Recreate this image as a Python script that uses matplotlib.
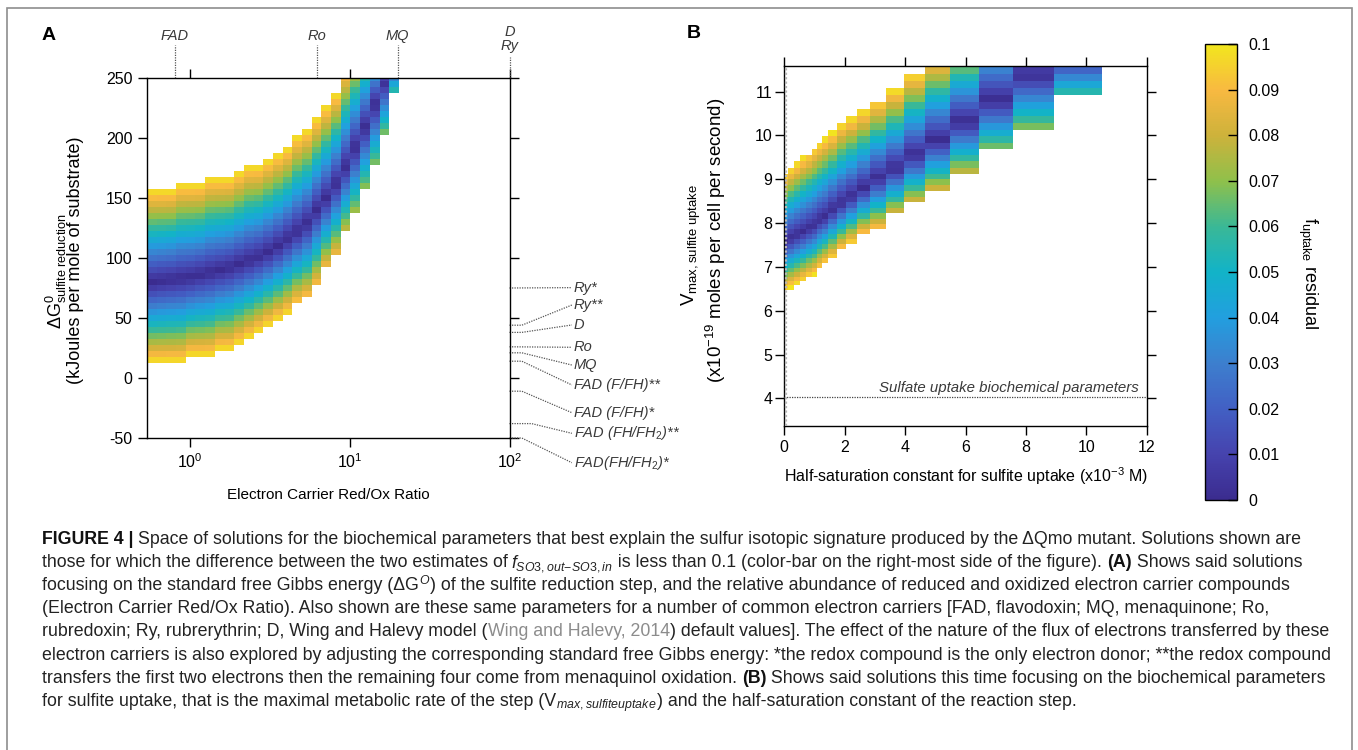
import numpy as np
import matplotlib
matplotlib.use("Agg")
import matplotlib.pyplot as plt
from matplotlib.colors import LinearSegmentedColormap
from matplotlib.transforms import blended_transform_factory
from matplotlib.ticker import NullLocator
from matplotlib.patches import Rectangle

plt.rcParams['font.family'] = ['Liberation Sans', 'DejaVu Sans']
plt.rcParams['mathtext.fontset'] = 'custom'
plt.rcParams['mathtext.rm'] = 'Liberation Sans'
plt.rcParams['mathtext.it'] = 'Liberation Sans:italic'
plt.rcParams['mathtext.bf'] = 'Liberation Sans:bold'
plt.rcParams['axes.unicode_minus'] = False

# ---- panel A: one entry per red/ox column (log grid), dG in kJ/mol
a_logx_range = (-0.268, 1.308)
a_bot = [12.5, 12.5, 12.5, 12.5, 17.5, 17.5, 17.5, 22.5, 22.5, 27.5, 32.5, 37.5, 42.5,
         47.5, 52.5, 62.5, 67.5, 77.5, 92.5, 102.5, 122.5, 137.5, 157.5, 177.5, 202.5, 237.5]
a_top = [157.5, 157.5, 157.5, 162.5, 162.5, 162.5, 167.5, 167.5, 167.5, 172.5, 177.5, 177.5,
         182.5, 187.5, 192.5, 202.5, 207.5, 217.5, 227.5, 237.5, 252.5, 252.5, 252.5, 252.5,
         252.5, 252.5]
a_mid = [80, 81, 82, 83, 84, 86, 88, 90, 92, 95, 98, 101, 105, 110, 116, 122, 129, 140, 150,
         162, 176, 192, 209, 228, 247, 265]
a_rbot = [0.1] * 15 + [0.095, 0.093, 0.092, 0.09, 0.09, 0.08, 0.075, 0.072, 0.07, 0.07, 0.06]
a_rtop = [0.1] * 20 + [0.092, 0.075, 0.058, 0.038, 0.018, 0.0]

# electron carriers (dG values marked on the right spine)
carrier_names = ['Ry*', 'Ry**', 'D', 'Ro', 'MQ', 'FAD (F/FH)**', 'FAD (F/FH)*',
                 'FAD (FH/FH$_{2}$)**', 'FAD(FH/FH$_{2}$)*']
carrier_dG = [75, 44, 38, 26, 21, 14, -11, -38, -50]
carrier_lbl_y = [75.3, 60.8, 44.2, 25.6, 10.8, -5.8, -28.9, -46.1, -70.6]
carrier_kink = [1.0, 1.034, 1.034, 1.0, 1.034, 1.034, 1.034, 1.061, 1.034]

top_names = ['FAD', 'Ro', 'MQ', 'D\nRy']
top_ratio = [0.805, 6.25, 20.0, 100.0]

# ---- panel B: one entry per half-saturation column
b_xedges = [0, 0.133, 0.332, 0.531, 0.719, 0.918, 1.073, 1.250, 1.460, 1.737, 2.046, 2.423,
            2.843, 3.352, 3.949, 4.668, 5.476, 6.460, 7.577, 8.927, 10.509]
b_bot = [6.47, 6.53, 6.60, 6.67, 6.75, 6.82, 6.94, 7.05, 7.17, 7.36, 7.51, 7.70, 7.89, 8.18,
         8.46, 8.76, 9.18, 9.73, 10.20, 10.92]
b_top = [9.155, 9.28, 9.39, 9.51, 9.61, 9.73, 9.84, 9.95, 10.07, 10.29, 10.42, 10.58, 10.80,
         11.05, 11.43, 11.585, 11.585, 11.585, 11.585, 11.585]
b_mid = [7.58, 7.66, 7.74, 7.81, 7.89, 7.96, 8.08, 8.15, 8.31, 8.46, 8.61, 8.80, 9.03, 9.25,
         9.56, 9.90, 10.32, 10.80, 11.40, 11.83]
b_rbot = [0.1] * 12 + [0.092, 0.088, 0.085, 0.082, 0.078, 0.068, 0.068, 0.06]
b_rtop = [0.1] * 15 + [0.088, 0.068, 0.035, 0.012, 0.0]
b_ymax = 11.585
sulfate_vmax = 4.02
sulfate_k = 0.07

cbar_ticks = [0, 0.01, 0.02, 0.03, 0.04, 0.05, 0.06, 0.07, 0.08, 0.09, 0.1]
cbar_labels = ['0', '0.01', '0.02', '0.03', '0.04', '0.05', '0.06', '0.07', '0.08', '0.09', '0.1']

parula = LinearSegmentedColormap.from_list('parula_like', [
    '#3b2c8f', '#4643ae', '#4260c4', '#3d7fce', '#229fdf', '#12b3c8',
    '#3ab896', '#8fc04b', '#cdb23b', '#f8b941', '#f2e61e'])


def residual_grid(ycent, bot, top, mid, rb, rt):
    z = np.full((len(ycent), len(bot)), np.nan)
    for j in range(len(bot)):
        for i, y in enumerate(ycent):
            if y < bot[j] or y > top[j]:
                continue
            m = mid[j]
            if y <= m:
                r = rb[j] * (m - y) / (m - bot[j])
            else:
                r = rt[j] * (y - m) / (top[j] - m)
            z[i, j] = min(r, 0.1)
    return np.ma.masked_invalid(z)


W, H = 1358, 750
fig = plt.figure(figsize=(W / 100, H / 100), dpi=100)


def fx(px):
    return px / W


def fy(py):
    return 1 - py / H


txt_dark = '#3a3a3a'
dot = (0, (1, 1))

# ================= panel A
axA = fig.add_axes([fx(147), fy(438), (509.5 - 147) / W, (438 - 78) / H])
a_xe = np.logspace(a_logx_range[0], a_logx_range[1], len(a_bot) + 1)
a_ye = np.arange(12.5, 253, 5.0)
a_yc = 0.5 * (a_ye[:-1] + a_ye[1:])
zA = residual_grid(a_yc, a_bot, a_top, a_mid, a_rbot, a_rtop)
axA.pcolormesh(a_xe, a_ye, zA, cmap=parula, vmin=0, vmax=0.1, shading='flat')
axA.set_xscale('log')
axA.set_xlim(10 ** a_logx_range[0], 100)
axA.set_ylim(-50, 250)
axA.set_xticks([1, 10, 100])
axA.xaxis.set_minor_locator(NullLocator())
axA.set_yticks(range(-50, 251, 50))
axA.tick_params(direction='out', length=6.5, width=1, top=True, right=True,
                labelsize=11.5, pad=4)
for s in axA.spines.values():
    s.set_linewidth(1)
axA.set_xlabel('Electron Carrier Red/Ox Ratio', fontsize=11, labelpad=12)

trA = blended_transform_factory(axA.transData, axA.transAxes)
for name, xv in zip(top_names, top_ratio):
    ytop = 1.058 if '\n' in name else 1.092
    axA.plot([xv, xv], [1.0, ytop], ls=dot, lw=0.9, color='#555555',
             transform=trA, clip_on=False)
    yl = 1.107 if '\n' in name else 1.117
    axA.text(xv, yl, name, transform=trA, ha='center', va='center', style='italic',
             fontsize=10.5, color=txt_dark, linespacing=1.0)

trR = blended_transform_factory(axA.transAxes, axA.transData)
for name, g, ly, kx in zip(carrier_names, carrier_dG, carrier_lbl_y, carrier_kink):
    axA.plot([1.0, kx, 1.172], [g, g, ly], ls=dot, lw=0.9, color='#555555',
             transform=trR, clip_on=False)
    axA.text(1.177, ly, name, transform=trR, ha='left', va='center', style='italic',
             fontsize=10.5, color=txt_dark)

fig.text(fx(56), fy(271), r'$\Delta\mathrm{G}^{0}_{\mathrm{sulfite\ reduction}}$',
         rotation=90, ha='center', va='center', fontsize=13)
fig.text(fx(76), fy(260), '(kJoules per mole of substrate)', rotation=90,
         ha='center', va='center', fontsize=13)

# ================= panel B
axB = fig.add_axes([fx(784.3), fy(425.7), (1146.7 - 784.3) / W, (425.7 - 66) / H])
b_ye = b_ymax / 1.015 ** np.arange(44, -1, -1)
b_yc = 0.5 * (b_ye[:-1] + b_ye[1:])
zB = residual_grid(b_yc, b_bot, b_top, b_mid, b_rbot, b_rtop)
meshB = axB.pcolormesh(b_xedges, b_ye, zB, cmap=parula, vmin=0, vmax=0.1, shading='flat')
axB.set_xlim(0, 12)
axB.set_ylim(3.375, b_ymax)
axB.set_xticks(range(0, 13, 2))
axB.set_yticks(range(4, 12))
axB.tick_params(direction='out', length=6.5, width=1, top=True, right=True,
                labelsize=11.5)
axB.tick_params(axis='y', pad=2)
for s in axB.spines.values():
    s.set_linewidth(1)
axB.axhline(sulfate_vmax, ls=dot, lw=0.9, color='#444444', zorder=3)
axB.axvline(sulfate_k, ls=dot, lw=1.6, color='#b5b5b5', zorder=3)
axB.text(11.75, sulfate_vmax + 0.06, 'Sulfate uptake biochemical parameters', ha='right',
         va='bottom', style='italic', fontsize=10.8, color=txt_dark)
axB.set_xlabel(r'Half-saturation constant for sulfite uptake (x10$^{-3}$ M)',
               fontsize=11.5, labelpad=8)

fig.text(fx(691), fy(245), r'$\mathrm{V}_{\mathrm{max,sulfite\ uptake}}$', rotation=90,
         ha='center', va='center', fontsize=13.5)
fig.text(fx(716), fy(240), r'(x10$^{-19}$ moles per cell per second)', rotation=90,
         ha='center', va='center', fontsize=13.5)

# ================= colour bar
cax = fig.add_axes([fx(1205), fy(500), (1237.3 - 1205) / W, (500 - 44) / H])
cb = fig.colorbar(meshB, cax=cax, ticks=cbar_ticks)
cb.ax.set_yticklabels(cbar_labels)
cb.outline.set_linewidth(1)
cax.tick_params(direction='in', length=6.5, width=1, labelsize=11.5, pad=8)
fig.text(fx(1308), fy(273), r'$\mathrm{f}_{\mathrm{uptake}}$ residual', rotation=270,
         ha='center', va='center', fontsize=13)

fig.text(fx(42), fy(35), 'A', fontsize=14, weight='bold', ha='left', va='center')
fig.text(fx(687), fy(34), 'B', fontsize=14, weight='bold', ha='left', va='center')

# ================= caption
caption = [
    [("FIGURE 4 | ", 'b'), ("Space of solutions for the biochemical parameters that best explain "
      "the sulfur isotopic signature produced by the \u0394Qmo mutant. Solutions shown are", 'n')],
    [("those for which the difference between the two estimates of ", 'n'),
     (r"$f_{SO3,out\!-\!SO3,in}$", 'n'),
     (" is less than 0.1 (color-bar on the right-most side of the figure). ", 'n'), ("(A)", 'b'),
     (" Shows said solutions", 'n')],
    [("focusing on the standard free Gibbs energy (\u0394G", 'n'), (r"$^{O}$", 'n'),
     (") of the sulfite reduction step, and the relative abundance of reduced and oxidized "
      "electron carrier compounds", 'n')],
    [("(Electron Carrier Red/Ox Ratio). Also shown are these same parameters for a number of "
      "common electron carriers [FAD, flavodoxin; MQ, menaquinone; Ro,", 'n')],
    [("rubredoxin; Ry, rubrerythrin; D, Wing and Halevy model (", 'n'),
     ("Wing and Halevy, 2014", 'g'),
     (") default values]. The effect of the nature of the flux of electrons transferred by these", 'n')],
    [("electron carriers is also explored by adjusting the corresponding standard free Gibbs "
      "energy: *the redox compound is the only electron donor; **the redox compound", 'n')],
    [("transfers the first two electrons then the remaining four come from menaquinol "
      "oxidation. ", 'n'), ("(B)", 'b'),
     (" Shows said solutions this time focusing on the biochemical parameters", 'n')],
    [("for sulfite uptake, that is the maximal metabolic rate of the step (V", 'n'),
     (r"$_{max,sulfiteuptake}$", 'n'),
     (") and the half-saturation constant of the reaction step.", 'n')],
]
styles = {'n': dict(color='#222222'), 'b': dict(color='#111111', weight='bold'),
          'g': dict(color='#8c8c8c')}
renderer = fig.canvas.get_renderer()


def is_math(s):
    return s.startswith('$') and s.endswith('$')


def advance(s, size, kw):
    if is_math(s):
        t = fig.text(0, 0, s, fontsize=size, **kw)
        w = t.get_window_extent(renderer).width
        t.remove()
        return w
    t1 = fig.text(0, 0, '|' + s + '|', fontsize=size, **kw)
    t2 = fig.text(0, 0, '||', fontsize=size, **kw)
    w = t1.get_window_extent(renderer).width - t2.get_window_extent(renderer).width
    t1.remove()
    t2.remove()
    return w


base = 10.0
widths = [sum(advance(s, base, styles[k]) for s, k in line) for line in caption]
cap_size = base * (1334 - 42) / max(widths)
for li, line in enumerate(caption):
    x = 42.0
    ybase = 539 + 23.1 * li + 5
    for s, k in line:
        shift = -1.5 if is_math(s) and s.startswith('$f') else 0.0
        fig.text(fx(x + shift), fy(ybase), s, fontsize=cap_size, ha='left', va='baseline',
                 **styles[k])
        x += advance(s, cap_size, styles[k]) + shift

fig.add_artist(Rectangle((fx(7), -0.2), fx(1352) - fx(7), fy(8) + 0.2, transform=fig.transFigure,
                         fill=False, ec='#8e8e8e', lw=1.2, clip_on=False))

fig.savefig('out.png', dpi=100)
